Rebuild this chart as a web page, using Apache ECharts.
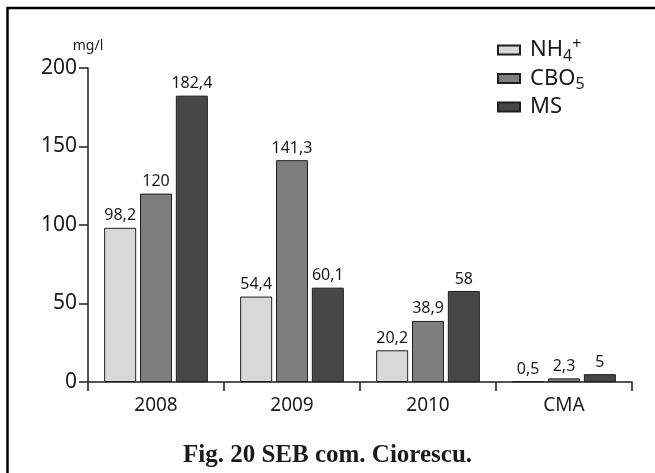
<!DOCTYPE html>
<html>
<head>
<meta charset="utf-8">
<script src="https://cdn.jsdelivr.net/npm/echarts@6/dist/echarts.min.js"></script>
<style>
  html, body { margin: 0; padding: 0; background: #fff; }
  #chart { width: 655px; height: 473px; }
</style>
</head>
<body>
<div id="chart"></div>
<script>
// Categories and measured concentrations (mg/l)
const categories = ['2008', '2009', '2010', 'CMA'];
const nh4Values = [98.2, 54.4, 20.2, 0.5];
const cbo5Values = [120, 141.3, 38.9, 2.3];
const msValues = [182.4, 60.1, 58, 5];
const seriesNames = ['NH4+', 'CBO5', 'MS'];
const unitLabel = 'mg/l';
const figureCaption = 'Fig. 20 SEB com. Ciorescu.';

const FONT = '"Noto Sans", "Open Sans", sans-serif';
const colors = ['#d8d8d8', '#7d7d7d', '#474747'];

function fmt(v) {
  return String(v).replace('.', ',');
}

function barSeries(name, data, color) {
  return {
    name: name,
    type: 'bar',
    data: data,
    barWidth: 32,
    barGap: '12%',
    itemStyle: { color: color, borderColor: '#1e1e1e', borderWidth: 1 },
    label: {
      show: true,
      position: 'top',
      distance: 4,
      color: '#1a1a1a',
      fontFamily: FONT,
      fontSize: 16,
      formatter: p => fmt(p.value)
    }
  };
}

// Legend names rendered with sub/superscripts
const legendRich = {
  n: { fontSize: 22, fontFamily: FONT, color: '#1a1a1a', lineHeight: 28, padding: [0, 0, 0, 5] },
  sub: { fontSize: 16, fontFamily: FONT, color: '#1a1a1a', lineHeight: 19, verticalAlign: 'bottom' },
  sup: { fontSize: 16, fontFamily: FONT, color: '#1a1a1a', lineHeight: 7, verticalAlign: 'top' }
};
function legendText(name) {
  if (name === 'NH4+') return '{n|NH}{sub|4}{sup|+}';
  if (name === 'CBO5') return '{n|CBO}{sub|5}';
  return '{n|' + name + '}';
}

const chart = echarts.init(document.getElementById('chart'), null, { renderer: 'canvas' });
chart.setOption({
  animation: false,
  backgroundColor: '#fff',
  title: {
    text: figureCaption,
    left: 'center',
    top: 438,
    textStyle: {
      fontFamily: '"Liberation Serif", "DejaVu Serif", serif',
      fontWeight: 'bold',
      fontSize: 25,
      color: '#1a1a1a'
    }
  },
  legend: {
    orient: 'vertical',
    left: 492,
    top: 31,
    itemWidth: 22,
    itemHeight: 9,
    itemGap: 3.5,
    icon: 'rect',
    data: seriesNames,
    formatter: legendText,
    textStyle: { rich: legendRich }
  },
  grid: { left: 88, right: 23, top: 68, bottom: 91, containLabel: false },
  xAxis: {
    type: 'category',
    data: categories,
    axisLine: { lineStyle: { color: '#1e1e1e', width: 1.5 } },
    axisTick: { show: true, length: 9, lineStyle: { color: '#1e1e1e', width: 1.5 } },
    axisLabel: { color: '#1a1a1a', fontFamily: FONT, fontSize: 19, margin: 14 }
  },
  yAxis: {
    type: 'value',
    min: 0,
    max: 200,
    interval: 50,
    name: unitLabel,
    nameLocation: 'end',
    nameGap: 15,
    nameTextStyle: { color: '#1a1a1a', fontFamily: FONT, fontSize: 14 },
    splitLine: { show: false },
    axisLine: { show: true, lineStyle: { color: '#1e1e1e', width: 1.5 } },
    axisTick: { show: true, length: 9, lineStyle: { color: '#1e1e1e', width: 1.5 } },
    axisLabel: { color: '#1a1a1a', fontFamily: FONT, fontSize: 21, margin: 11 }
  },
  series: [
    barSeries(seriesNames[0], nh4Values, colors[0]),
    barSeries(seriesNames[1], cbo5Values, colors[1]),
    barSeries(seriesNames[2], msValues, colors[2])
  ],
  graphic: [{
    type: 'rect',
    shape: { x: 7.5, y: 8, width: 720, height: 520 },
    style: { fill: null, stroke: '#000', lineWidth: 2.5 },
    silent: true,
    z: 100
  }]
});
</script>
</body>
</html>
